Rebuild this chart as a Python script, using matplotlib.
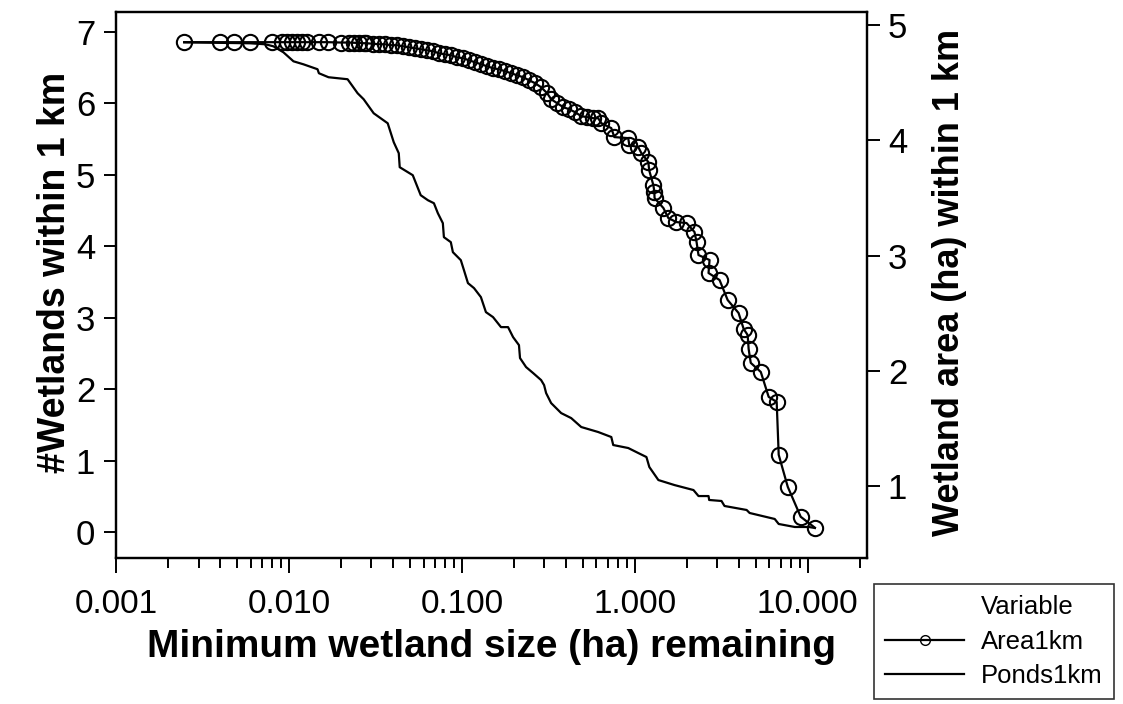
import numpy as np
import matplotlib
matplotlib.use('Agg')
from matplotlib import pyplot as plt
from matplotlib.lines import Line2D
from matplotlib.ticker import FixedLocator, NullFormatter

plt.rcParams['font.family'] = ['Liberation Sans', 'DejaVu Sans']

# Area1km (right axis): minimum size (ha) vs wetland area within 1 km (ha)
area_x = [0.00248, 0.00401, 0.00483, 0.00598, 0.00802, 0.00916, 0.00980, 0.01048,
          0.01120, 0.01197, 0.01280, 0.01483, 0.01671, 0.01989, 0.02213, 0.02366,
          0.02529, 0.02704, 0.02773, 0.0305, 0.0330, 0.0358, 0.0387, 0.0420, 0.0455,
          0.0493, 0.0534, 0.0578, 0.0627, 0.0679, 0.0736, 0.0797, 0.0863, 0.0935,
          0.1014, 0.1099, 0.1189, 0.1288, 0.1396, 0.1514, 0.1637, 0.1774, 0.1923,
          0.2084, 0.2259, 0.2443, 0.2649, 0.2871, 0.3112, 0.3281, 0.3556, 0.3855,
          0.4169, 0.4519, 0.4898, 0.5309, 0.5741, 0.614, 0.640, 0.731, 0.761, 0.916,
          0.929, 1.047, 1.091, 1.197, 1.21, 1.280, 1.297, 1.30, 1.463, 1.563, 1.741,
          1.991, 2.213, 2.275, 2.334, 2.704, 2.668, 3.09, 3.44, 3.98, 4.26, 4.49,
          4.55, 4.68, 5.35, 5.94, 6.61, 6.79, 7.66, 9.10, 10.99]
area_y = [4.853, 4.853, 4.853, 4.853, 4.853, 4.853, 4.853, 4.853,
          4.853, 4.853, 4.853, 4.853, 4.853, 4.850, 4.850, 4.848,
          4.846, 4.844, 4.844, 4.840, 4.835, 4.835, 4.827, 4.827, 4.818,
          4.809, 4.801, 4.792, 4.783, 4.775, 4.757, 4.748, 4.740, 4.722,
          4.714, 4.696, 4.679, 4.662, 4.644, 4.627, 4.618, 4.601, 4.584,
          4.566, 4.549, 4.523, 4.497, 4.462, 4.410, 4.358, 4.323, 4.289,
          4.271, 4.245, 4.211, 4.202, 4.193, 4.193, 4.150, 4.107, 4.029, 4.020,
          3.959, 3.942, 3.890, 3.812, 3.742, 3.612, 3.552, 3.500, 3.413, 3.326, 3.291,
          3.283, 3.205, 3.118, 3.005, 2.962, 2.849, 2.788, 2.615, 2.502, 2.363, 2.311,
          2.190, 2.069, 1.990, 1.774, 1.730, 1.271, 0.993, 0.733, 0.638]

# Ponds1km (left axis): number of wetlands within 1 km
ponds_x = [0.00248, 0.00598, 0.00731, 0.00813, 0.00929, 0.01062, 0.01213, 0.01463,
           0.0149, 0.01694, 0.02183, 0.02495, 0.02704, 0.03090, 0.03724, 0.04036,
           0.04315, 0.0437, 0.05200, 0.0578, 0.0636, 0.0689, 0.0726, 0.0776, 0.0787,
           0.0863, 0.0887, 0.0986, 0.1028, 0.1084, 0.1175, 0.1288, 0.1377, 0.1514,
           0.1683, 0.1849, 0.1977, 0.2138, 0.2168, 0.2350, 0.2582, 0.2871, 0.2987,
           0.3069, 0.3281, 0.3750, 0.4285, 0.4898, 0.614, 0.731, 0.750, 0.916, 1.047,
           1.167, 1.213, 1.368, 1.694, 2.183, 2.334, 2.668, 2.69, 3.17, 3.30, 4.43,
           4.61, 6.44, 6.79, 8.41, 10.14, 10.99]
ponds_y = [6.853, 6.839, 6.825, 6.797, 6.713, 6.587, 6.545, 6.476,
           6.420, 6.364, 6.336, 6.140, 6.056, 5.860, 5.720, 5.455,
           5.301, 5.105, 4.993, 4.713, 4.643, 4.601, 4.462, 4.322, 4.126,
           4.056, 3.916, 3.804, 3.664, 3.483, 3.413, 3.287, 3.077, 3.007,
           2.867, 2.867, 2.727, 2.615, 2.434, 2.308, 2.224, 2.126, 2.056,
           1.944, 1.804, 1.664, 1.594, 1.469, 1.399, 1.329, 1.217, 1.175, 1.105,
           1.049, 0.909, 0.727, 0.657, 0.587, 0.503, 0.503, 0.448, 0.434, 0.364, 0.308,
           0.266, 0.182, 0.112, 0.070, 0.070, 0.056]

x_major = [0.001, 0.01, 0.1, 1, 10]
x_labels = ['0.001', '0.010', '0.100', '1.000', '10.000']

fig = plt.figure(figsize=(11.23, 7.04), dpi=100)
ax = fig.add_axes([116/1123, 1 - 558/704, (867-116)/1123, (558-12)/704])
ax2 = ax.twinx()

ax.plot(ponds_x, ponds_y, color='black', lw=1.6)
ax2.plot(area_x, area_y, color='black', lw=1.6, marker='o', ms=11,
         mfc='none', mec='black', mew=1.5)

ax.set_xscale('log')
ax.set_xlim(0.001, 22)
ax.set_ylim(-0.364, 7.277)
ax2.set_ylim(0.375, 5.115)
ax.set_yticks(range(0, 8))
ax2.set_yticks(range(1, 6))

minor = [m * 10.0**k for k in range(-3, 2) for m in range(2, 10) if m * 10.0**k < 22]
ax.xaxis.set_major_locator(FixedLocator(x_major))
ax.xaxis.set_minor_locator(FixedLocator(minor))
ax.xaxis.set_minor_formatter(NullFormatter())
ax.set_xticklabels(x_labels)

for a in (ax, ax2):
    for s in a.spines.values():
        s.set_linewidth(1.6)
    a.tick_params(which='major', length=9, width=1.4, labelsize=25, pad=6)
    a.tick_params(which='minor', length=7, width=1.4)
ax.tick_params(axis='x', which='major', length=11, labelsize=24, pad=11)

ax.set_xlabel('Minimum wetland size (ha) remaining', fontsize=28, fontweight='bold', labelpad=7)
ax.set_ylabel('#Wetlands within 1 km', fontsize=27, fontweight='bold')
ax2.set_ylabel('Wetland area (ha) within 1 km', fontsize=26, fontweight='bold')
ax.yaxis.set_label_coords(-0.057, 0.524)
ax2.yaxis.set_label_coords(1.087, 0.504)

handles = [Line2D([], [], color='none'),
           Line2D([], [], color='black', lw=1.6, marker='o', ms=7, mfc='none', mec='black'),
           Line2D([], [], color='black', lw=1.6)]
leg = fig.legend(handles, ['Variable', 'Area1km', 'Ponds1km'],
                 loc='upper left', bbox_to_anchor=(874/1123, 1 - 584/704),
                 fontsize=18.5, frameon=True, fancybox=False,
                 handlelength=3.1, handletextpad=0.65, labelspacing=0.42,
                 borderaxespad=0, borderpad=0.42)
leg.get_frame().set_edgecolor('black')
leg.get_frame().set_linewidth(1.2)

fig.savefig('out.png', dpi=100)
